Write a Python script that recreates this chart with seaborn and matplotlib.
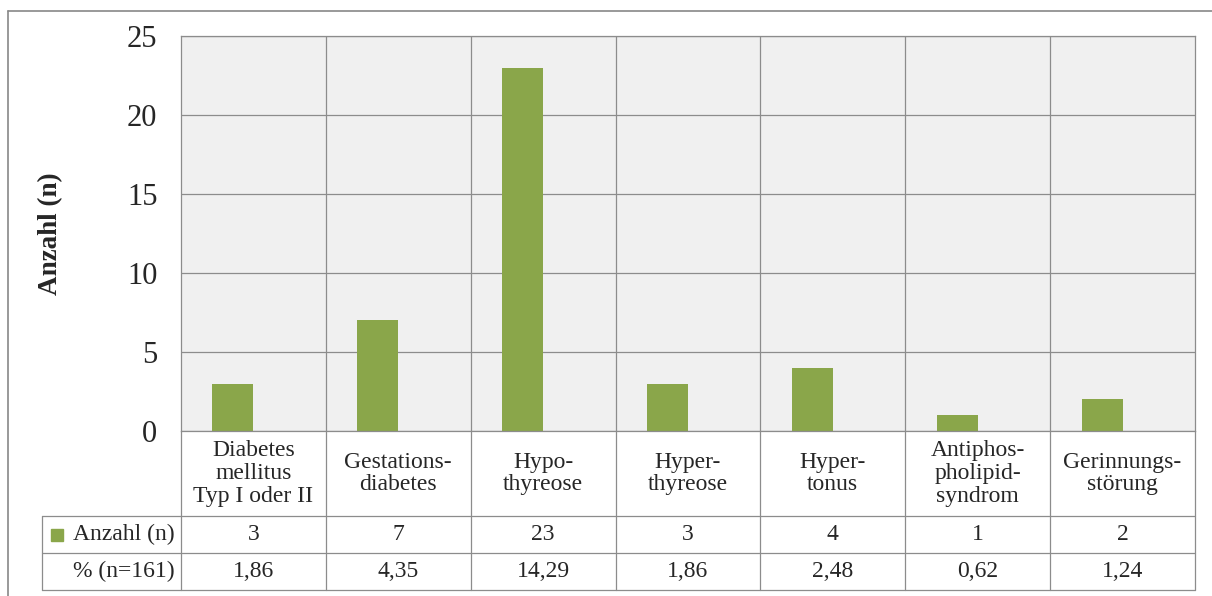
"""
Komorbiditäten – Säulendiagramm mit Datentabelle (Excel-Stil).
"""

import matplotlib
matplotlib.use("Agg")
import matplotlib.pyplot as plt
import seaborn as sns
import pandas as pd
from matplotlib.lines import Line2D

# ══════════════════════════════════════════
# DATEN
# ══════════════════════════════════════════
KATEGORIEN = [
    "Diabetes\nmellitus\nTyp I oder II",
    "Gestations-\ndiabetes",
    "Hypo-\nthyreose",
    "Hyper-\nthyreose",
    "Hyper-\ntonus",
    "Antiphos-\npholipid-\nsyndrom",
    "Gerinnungs-\nstörung",
]
ANZAHL = [3, 7, 23, 3, 4, 1, 2]
PROZENT = ["1,86", "4,35", "14,29", "1,86", "2,48", "0,62", "1,24"]
Y_TICKS = [0, 5, 10, 15, 20, 25]
REIHE_ANZAHL = "Anzahl (n)"
REIHE_PROZENT = "% (n=161)"

GRUEN = "#8AA64A"
GITTER = "#8C8C8C"
HINTERGRUND = "#F0F0F0"
FS_TAB = 17

df = pd.DataFrame({"Kategorie": KATEGORIEN, "Anzahl": ANZAHL, "Reihe": REIHE_ANZAHL})

# ══════════════════════════════════════════
# FIGUR
# ══════════════════════════════════════════
sns.set_style("white")
plt.rcParams["font.family"] = ["Liberation Serif", "DejaVu Serif"]

W, H = 1212, 596
fig = plt.figure(figsize=(W / 100, H / 100), dpi=100)

# Plotbereich (Pixelgrenzen aus der Vorlage)
L, R, T, B = 181, 1195, 36, 431
ax = fig.add_axes([L / W, 1 - B / H, (R - L) / W, (B - T) / H])
ax.set_facecolor(HINTERGRUND)

# zweite (leere) Hue-Stufe -> Säule sitzt links der Mitte wie in Excel
sns.barplot(data=df, x="Kategorie", y="Anzahl", hue="Reihe",
            hue_order=[REIHE_ANZAHL, "_leer"], palette=[GRUEN, GRUEN],
            width=0.566, dodge=True, saturation=1, legend=False,
            linewidth=0, ax=ax)

ax.set_ylim(0, 25)
ax.set_xlim(-0.5, len(KATEGORIEN) - 0.5)
ax.set_yticks(Y_TICKS)
ax.set_yticklabels([str(t) for t in Y_TICKS], fontsize=22)
ax.tick_params(axis="y", length=0, pad=17)
ax.set_xticks([])
ax.set_xlabel("")
ax.grid(axis="y", color=GITTER, linewidth=0.9)
for i in range(len(KATEGORIEN) - 1):
    ax.axvline(i + 0.5, color=GITTER, linewidth=0.9, zorder=0.5)
ax.set_axisbelow(True)
for s in ax.spines.values():
    s.set_color(GITTER)
    s.set_linewidth(0.9)

ax.set_ylabel("Anzahl (n)", fontsize=19.5, fontweight="bold")
ax.yaxis.set_label_coords((63 - L) / (R - L), 0.5)

# ══════════════════════════════════════════
# DATENTABELLE
# ══════════════════════════════════════════
tr = ax.get_xaxis_transform()


def fy(px):
    """Pixel-y -> Achsenbruchteil."""
    return (B - px) / (B - T)


spalte = (R - L) / len(KATEGORIEN)
zeile1, zeile2, zeile3, zeile4 = 431, 516, 553, 590
x_links = -0.5 - (L - 42) / spalte
x_rechts = len(KATEGORIEN) - 0.5

lw = 0.9
for y in (zeile2, zeile3, zeile4):
    ax.add_line(Line2D([x_links, x_rechts], [fy(y), fy(y)], transform=tr,
                       color=GITTER, linewidth=lw, clip_on=False))
ax.add_line(Line2D([x_links, x_links], [fy(zeile2), fy(zeile4)], transform=tr,
                   color=GITTER, linewidth=lw, clip_on=False))
for i in range(len(KATEGORIEN) + 1):
    xv = i - 0.5
    ax.add_line(Line2D([xv, xv], [0, fy(zeile4)], transform=tr,
                       color=GITTER, linewidth=lw, clip_on=False))

for i, (kat, n, p) in enumerate(zip(KATEGORIEN, ANZAHL, PROZENT)):
    ax.text(i, fy((zeile1 + zeile2) / 2), kat, transform=tr, ha="center",
            va="center", fontsize=FS_TAB, linespacing=1.12, clip_on=False)
    ax.text(i, fy((zeile2 + zeile3) / 2), str(n), transform=tr, ha="center",
            va="center", fontsize=FS_TAB, clip_on=False)
    ax.text(i, fy((zeile3 + zeile4) / 2), p, transform=tr, ha="center",
            va="center", fontsize=FS_TAB, clip_on=False)

x_txt = -0.5 - 6 / spalte
ax.text(x_txt, fy((zeile2 + zeile3) / 2), REIHE_ANZAHL, transform=tr,
        ha="right", va="center", fontsize=FS_TAB, clip_on=False)
ax.text(x_txt, fy((zeile3 + zeile4) / 2), REIHE_PROZENT, transform=tr,
        ha="right", va="center", fontsize=FS_TAB, clip_on=False)
x_marker = -0.5 - (L - 57) / spalte
ax.plot([x_marker], [fy((zeile2 + zeile3) / 2)], marker="s", markersize=8,
        color=GRUEN, transform=tr, clip_on=False)

# äußerer Diagrammrahmen
fig.add_artist(Line2D([8 / W, 1], [1 - 11 / H, 1 - 11 / H], color="#888888",
                      linewidth=1.2, transform=fig.transFigure))
fig.add_artist(Line2D([8 / W, 8 / W], [0, 1 - 11 / H], color="#888888",
                      linewidth=1.2, transform=fig.transFigure))

plt.savefig("out.png", dpi=100)
plt.close()
